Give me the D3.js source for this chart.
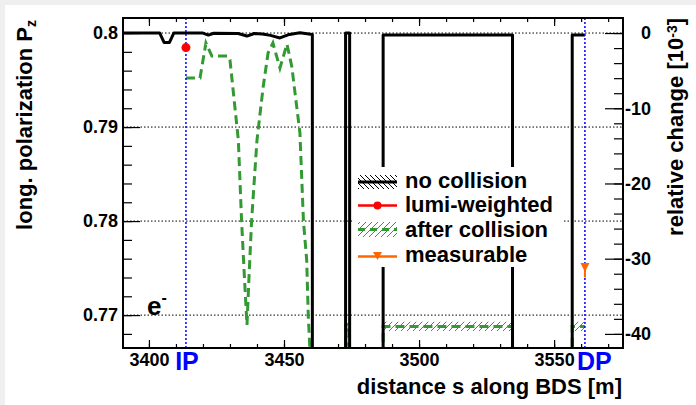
<!DOCTYPE html>
<html>
<head>
<meta charset="utf-8">
<script src="https://cdn.jsdelivr.net/npm/d3@7"></script>
<style>
  body { margin: 0; background: #fff; }
  svg { display: block; font-family: "Liberation Sans", Arial, sans-serif; font-weight: bold; }
</style>
</head>
<body>
<div id="chart"></div>
<script>

//////////////////////////////////////////////////////
// DATA
//////////////////////////////////////////////////////

const xTicks = [3400, 3450, 3500, 3550];
const xMinorTicks = d3.range(3400, 3580, 10);
const yTicks = [0.77, 0.78, 0.79, 0.80];
const yTickLabels = ["0.77", "0.78", "0.79", "0.8"];
const yMinorTicks = d3.range(0.768, 0.8011, 0.002);
const relTicks = [0, -10, -20, -30, -40];
const relMinorTicks = d3.range(-40, 1, 2);

// no collision (black): s [m], P
const noCollS = [3390.4, 3404.0, 3405.6, 3407.6, 3409.2, 3420.0, 3422.0, 3424.0, 3433.0, 3436.3,
                 3439.0, 3442.0, 3445.0, 3448.5, 3452.0, 3455.9, 3460.5, 3460.5, 3472.8, 3472.8,
                 3474.3, 3474.3, 3486.7, 3486.7, 3534.6, 3534.6, 3556.7, 3556.7, 3561.4];
const noCollP = [0.8000, 0.8000, 0.7990, 0.7990, 0.8000, 0.8000, 0.79978, 0.79998, 0.79995, 0.79968,
                 0.79995, 0.79990, 0.79975, 0.79948, 0.79985, 0.80003, 0.79985, 0.7600, 0.7600, 0.8000,
                 0.8000, 0.7600, 0.7600, 0.79978, 0.79978, 0.7600, 0.7600, 0.79978, 0.79978];

// after collision (green): s [m], P, band half width
const afterS = [3413.7, 3418.9, 3421.1, 3423.3, 3429.3, 3430.0, 3433.1, 3434.3, 3435.4, 3436.3,
                3437.0, 3438.0, 3440.0, 3442.3, 3444.1, 3445.9, 3448.5, 3451.1, 3452.9, 3455.9,
                3457.2, 3458.4, 3459.0, 3460.7, 3472.9, 3472.9, 3474.0, 3474.0, 3486.7, 3486.7,
                3534.6, 3534.6, 3556.7, 3556.7, 3561.4];
const afterP = [0.79522, 0.79522, 0.79894, 0.79755, 0.79755, 0.79713, 0.78862, 0.7800, 0.77374, 0.76895,
                0.77374, 0.7800, 0.78862, 0.79429, 0.79787, 0.79894, 0.79628, 0.79883, 0.79642, 0.78937,
                0.7800, 0.77587, 0.76984, 0.7600, 0.7600, 0.7690, 0.7690, 0.7600, 0.7600, 0.7688,
                0.7688, 0.7600, 0.7600, 0.7688, 0.7688];
const afterErr = [0, 0, 0, 0, 0, 0, 0, 0, 0, 0,
                  0, 0, 0, 0, 0, 0, 0, 0, 0, 0,
                  0, 0, 0, 0, 0.0005, 0.0005, 0.0005, 0.0005, 0.0005, 0.0005,
                  0.0005, 0.0005, 0.0005, 0.0005, 0.0005];

const lumiPoint = [3413.7, 0.79845];
const measPoint = [3561.4, 0.7750, 0.0010];   // s, P, lower error
const ipS = 3413.7;
const dpS = 3561.4;
const legendLabels = ["no collision", "lumi-weighted", "after collision", "measurable"];

//////////////////////////////////////////////////////
// SETUP
//////////////////////////////////////////////////////

const width = 696, height = 405;
const L = 123, R = 623, T = 18, B = 348;
const GREEN = "#339933", ORANGE = "#ff6600", BLUE = "#0000ff";

const svg = d3.select("#chart").append("svg")
    .attr("width", width).attr("height", height);

svg.append("rect").attr("width", width).attr("height", height).attr("fill", "#efefef");
svg.append("rect").attr("x", 5).attr("y", 5).attr("width", width - 5).attr("height", height - 5).attr("fill", "#fff");

const x = d3.scaleLinear().domain([3390.4, 3575.5]).range([L, R]);
const y = d3.scaleLinear().domain([0.7665, 0.8016]).range([B, T]);
const yR = d3.scaleLinear().domain(y.domain().map(p => (p / 0.8 - 1) * 1000)).range([B, T]);

const defs = svg.append("defs");
defs.append("clipPath").attr("id", "plotClip")
    .append("rect").attr("x", L).attr("y", T).attr("width", R - L).attr("height", B - T);

const hg = defs.append("pattern").attr("id", "hatchG")
    .attr("patternUnits", "userSpaceOnUse").attr("width", 6).attr("height", 6);
hg.append("path").attr("d", "M0,6 L6,0 M-1,1 L1,-1 M5,7 L7,5")
    .attr("stroke", GREEN).attr("stroke-width", 1);

const hk = defs.append("pattern").attr("id", "hatchK")
    .attr("patternUnits", "userSpaceOnUse").attr("width", 5).attr("height", 5);
hk.append("path").attr("d", "M0,0 L5,5 M-1,4 L1,6 M4,-1 L6,1")
    .attr("stroke", "#000").attr("stroke-width", 1);

//////////////////////////////////////////////////////
// GRID
//////////////////////////////////////////////////////

svg.selectAll(".grid")
    .data(yTicks)
    .enter()
    .append("line")
    .attr("x1", L).attr("x2", R)
    .attr("y1", d => y(d)).attr("y2", d => y(d))
    .attr("stroke", "#000")
    .attr("stroke-width", 1)
    .attr("stroke-dasharray", "1.5,2");

//////////////////////////////////////////////////////
// CURVES
//////////////////////////////////////////////////////

const plot = svg.append("g").attr("clip-path", "url(#plotClip)");

const line = d3.line().x(d => x(d[0])).y(d => y(d[1]));

const afterData = d3.zip(afterS, afterP, afterErr);

plot.append("path")
    .datum(afterData)
    .attr("d", d3.area()
        .defined(d => d[2] > 0)
        .x(d => x(d[0]))
        .y0(d => y(d[1] - d[2]))
        .y1(d => y(d[1] + d[2])))
    .attr("fill", "url(#hatchG)");

plot.append("path")
    .datum(afterData)
    .attr("d", line)
    .attr("fill", "none")
    .attr("stroke", GREEN)
    .attr("stroke-width", 3)
    .attr("stroke-dasharray", "9,5");

plot.append("path")
    .datum(d3.zip(noCollS, noCollP))
    .attr("d", line)
    .attr("fill", "none")
    .attr("stroke", "#000")
    .attr("stroke-width", 3)
    .attr("stroke-linejoin", "round");

// IP / DP markers
svg.selectAll(".ipdp")
    .data([ipS, dpS])
    .enter()
    .append("line")
    .attr("x1", d => x(d)).attr("x2", d => x(d))
    .attr("y1", T).attr("y2", B)
    .attr("stroke", BLUE)
    .attr("stroke-width", 1.5)
    .attr("stroke-dasharray", "2,2");

// lumi-weighted point
svg.append("circle")
    .attr("cx", x(lumiPoint[0])).attr("cy", y(lumiPoint[1]))
    .attr("r", 4.5).attr("fill", "#ff0000");

// measurable point
const mx = x(measPoint[0]), my = y(measPoint[1]);
svg.append("line")
    .attr("x1", mx).attr("x2", mx)
    .attr("y1", my).attr("y2", y(measPoint[1] - measPoint[2]))
    .attr("stroke", ORANGE).attr("stroke-width", 2);
svg.append("path")
    .attr("d", `M${mx - 4.5},${my - 5} L${mx + 4.5},${my - 5} L${mx},${my + 4} Z`)
    .attr("fill", ORANGE);

//////////////////////////////////////////////////////
// LEGEND
//////////////////////////////////////////////////////

const leg = svg.append("g");
leg.append("rect").attr("x", 353).attr("y", 167).attr("width", 209).attr("height", 100).attr("fill", "#fff");

const base = [187.5, 212, 237, 261.5];

leg.append("rect").attr("x", 358).attr("y", 175).attr("width", 39).attr("height", 14).attr("fill", "url(#hatchK)");
leg.append("line").attr("x1", 358).attr("x2", 397).attr("y1", 182).attr("y2", 182)
    .attr("stroke", "#000").attr("stroke-width", 3);

leg.append("line").attr("x1", 358).attr("x2", 397).attr("y1", 205.5).attr("y2", 205.5)
    .attr("stroke", "#ff0000").attr("stroke-width", 2.5);
leg.append("circle").attr("cx", 377.5).attr("cy", 205.5).attr("r", 4).attr("fill", "#ff0000");

leg.append("rect").attr("x", 358).attr("y", 222).attr("width", 39).attr("height", 15).attr("fill", "url(#hatchG)");
leg.append("line").attr("x1", 358).attr("x2", 397).attr("y1", 229.5).attr("y2", 229.5)
    .attr("stroke", GREEN).attr("stroke-width", 3).attr("stroke-dasharray", "7,5");

leg.append("line").attr("x1", 358).attr("x2", 397).attr("y1", 256.5).attr("y2", 256.5)
    .attr("stroke", ORANGE).attr("stroke-width", 2.5);
leg.append("path").attr("d", "M373,252 L382,252 L377.5,260 Z").attr("fill", ORANGE);

leg.selectAll(".legtext")
    .data(legendLabels)
    .enter()
    .append("text")
    .attr("x", 405)
    .attr("y", (d, i) => base[i])
    .attr("font-size", 22)
    .text(d => d);

//////////////////////////////////////////////////////
// AXES
//////////////////////////////////////////////////////

function styleAxis(g) {
    g.attr("font-size", 18)
     .attr("font-family", "'Liberation Sans', Arial, sans-serif")
     .attr("font-weight", "bold");
    g.select(".domain").remove();
    g.selectAll("line").attr("stroke-width", 1.2);
}

// bottom
svg.append("g")
    .attr("transform", `translate(0,${B})`)
    .call(d3.axisBottom(x).tickValues(xTicks).tickSize(-8).tickFormat(d => String(d)))
    .call(styleAxis)
    .call(g => g.selectAll("text").attr("y", 18).attr("dy", null).attr("fill", "#000"));
svg.append("g")
    .attr("transform", `translate(0,${B})`)
    .call(d3.axisBottom(x).tickValues(xMinorTicks).tickSize(-4).tickFormat(""))
    .call(styleAxis);

// top
svg.append("g")
    .attr("transform", `translate(0,${T})`)
    .call(d3.axisTop(x).tickValues(xTicks).tickSize(-8).tickFormat(""))
    .call(styleAxis);
svg.append("g")
    .attr("transform", `translate(0,${T})`)
    .call(d3.axisTop(x).tickValues(xMinorTicks).tickSize(-4).tickFormat(""))
    .call(styleAxis);

// left
svg.append("g")
    .attr("transform", `translate(${L},0)`)
    .call(d3.axisLeft(y).tickValues(yTicks).tickSize(-17).tickPadding(5)
        .tickFormat((d, i) => yTickLabels[i]))
    .call(styleAxis)
    .call(g => g.selectAll("text").attr("fill", "#000"));
svg.append("g")
    .attr("transform", `translate(${L},0)`)
    .call(d3.axisLeft(y).tickValues(yMinorTicks).tickSize(-9).tickFormat(""))
    .call(styleAxis);

// right
svg.append("g")
    .attr("transform", `translate(${R},0)`)
    .call(d3.axisRight(yR).tickValues(relTicks).tickSize(-18).tickFormat(d => String(d)))
    .call(styleAxis)
    .call(g => g.selectAll("text").attr("x", 28).attr("text-anchor", "end").attr("fill", "#000"));
svg.append("g")
    .attr("transform", `translate(${R},0)`)
    .call(d3.axisRight(yR).tickValues(relMinorTicks).tickSize(-9).tickFormat(""))
    .call(styleAxis);

// frame
svg.append("rect")
    .attr("x", L).attr("y", T).attr("width", R - L).attr("height", B - T)
    .attr("fill", "none").attr("stroke", "#000").attr("stroke-width", 2);

//////////////////////////////////////////////////////
// LABELS
//////////////////////////////////////////////////////

svg.append("text")
    .attr("x", 622).attr("y", 394)
    .attr("text-anchor", "end")
    .attr("font-size", 22)
    .text("distance s along BDS [m]");

const yl = svg.append("text")
    .attr("transform", "translate(32,20) rotate(-90)")
    .attr("text-anchor", "end")
    .attr("font-size", 22)
    .text("long. polarization P");
yl.append("tspan").attr("dy", "0.3em").attr("font-size", 14).text("z");

const yr = svg.append("text")
    .attr("transform", "translate(683,18) rotate(-90)")
    .attr("text-anchor", "end")
    .attr("font-size", 22)
    .text("relative change [10");
yr.append("tspan").attr("dy", "-0.45em").attr("font-size", 14).text("-3");
yr.append("tspan").attr("dy", "0.3em").text("]");

svg.append("text")
    .attr("x", x(ipS) + 1).attr("y", 370)
    .attr("text-anchor", "middle")
    .attr("font-size", 25)
    .attr("fill", BLUE)
    .text("IP");

svg.append("text")
    .attr("x", x(dpS) - 8).attr("y", 370)
    .attr("font-size", 25)
    .attr("fill", BLUE)
    .text("DP");

const el = svg.append("text")
    .attr("x", 147).attr("y", 315)
    .attr("font-size", 26)
    .text("e");
el.append("tspan").attr("dy", -12).attr("font-size", 16).text("-");

</script>
</body>
</html>
